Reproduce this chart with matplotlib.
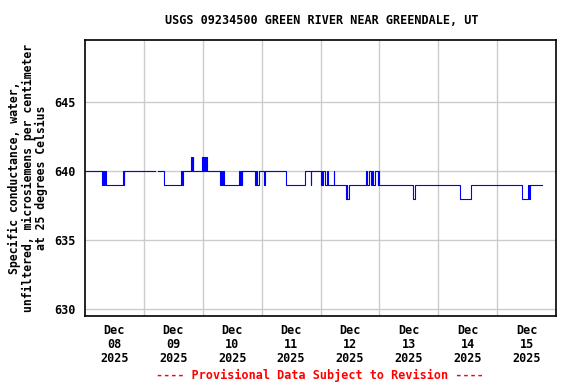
import matplotlib
matplotlib.use("Agg")
import matplotlib.pyplot as plt
import numpy as np

# hours since Dec 08 2025 00:00, value holds until next change point (nan = gap)
change_hours = [
    0.0, 6.9, 7.5, 7.75, 8.2, 8.75, 15.5, 15.75, 16.0, 28.5,
    29.75, 32.0, 39.25, 39.5, 40.0, 43.3, 43.6, 43.9, 44.1,
    47.6, 48.0, 48.5, 49.0, 49.25, 49.9,
    55.0, 55.6, 56.0, 56.25, 56.5, 62.9, 63.2, 63.5, 63.8, 64.2,
    69.3, 69.75, 70.25, 70.8, 73.0, 73.4, 82.0, 89.7, 92.0, 92.3,
    96.1, 96.5, 96.75, 97.0, 98.0, 98.5, 99.0, 101.3, 101.6,
    106.3, 106.6, 107.0, 107.5,
    114.6, 115.1, 115.8, 116.6, 116.9, 117.5, 118.3, 119.3, 119.5, 119.9,
    133.9, 134.4, 152.7, 157.4, 178.0, 180.7, 181.1, 181.5, 186.25,
]
change_values = [
    640, 639, 640, 639, 640, 639, 640, 639, 640, np.nan,
    640, 639, 640, 639, 640, 641, 640, 641, 640,
    641, 640, 641, 640, 641, 640,
    639, 640, 639, 640, 639, 640, 639, 640, 639, 640,
    639, 640, 639, 640, 639, 640, 639, 640, 639, 640,
    639, 640, 639, 640, 639, 640, 639, 640, 639,
    638, 639, 638, 639,
    640, 639, 640, 639, 640, 639, 640, 639, 640, 639,
    638, 639, 638, 639, 638, 639, 638, 639, 639,
]

tick_hours = [12, 36, 60, 84, 108, 132, 156, 180]
tick_labels = ["Dec\n%02d\n2025" % d for d in range(8, 16)]
y_ticks = [630, 635, 640, 645]

font = {"family": "DejaVu Sans Mono", "weight": "bold", "size": 8.5}

fig = plt.figure(figsize=(5.76, 3.84), dpi=100)
ax = fig.add_axes([85 / 576, 1 - 316 / 384, 471 / 576, 276 / 384])

ax.step(change_hours, change_values, where="post", color="#0000ff", lw=0.8)

ax.set_xlim(0, 192)
ax.set_ylim(629.5, 649.5)
ax.set_xticks(tick_hours)
ax.set_xticklabels(tick_labels, fontdict=font, linespacing=1.1)
ax.set_xticks(range(24, 192, 24), minor=True)
ax.set_yticks(y_ticks)
ax.set_yticklabels([str(v) for v in y_ticks], fontdict=font)
ax.tick_params(which="both", length=0)
ax.tick_params(axis="x", pad=6)
ax.tick_params(axis="y", pad=7)
ax.grid(True, axis="x", which="minor", color="#cccccc", lw=1)
ax.grid(True, axis="y", which="major", color="#cccccc", lw=1)
ax.set_axisbelow(True)
for s in ax.spines.values():
    s.set_linewidth(1.2)

ax.set_ylabel("Specific conductance, water,\nunfiltered, microsiemens per centimeter\nat 25 degrees Celsius",
              family="DejaVu Sans Mono", weight="bold", size=8.3, linespacing=1.05, labelpad=4)
fig.text(322 / 576, 1 - 20 / 384, "USGS 09234500 GREEN RIVER NEAR GREENDALE, UT",
         ha="center", va="center", **font)
fig.text(320 / 576, 1 - 375 / 384, "---- Provisional Data Subject to Revision ----",
         ha="center", va="center", color="red", **font)

fig.savefig("out.png", dpi=100)
